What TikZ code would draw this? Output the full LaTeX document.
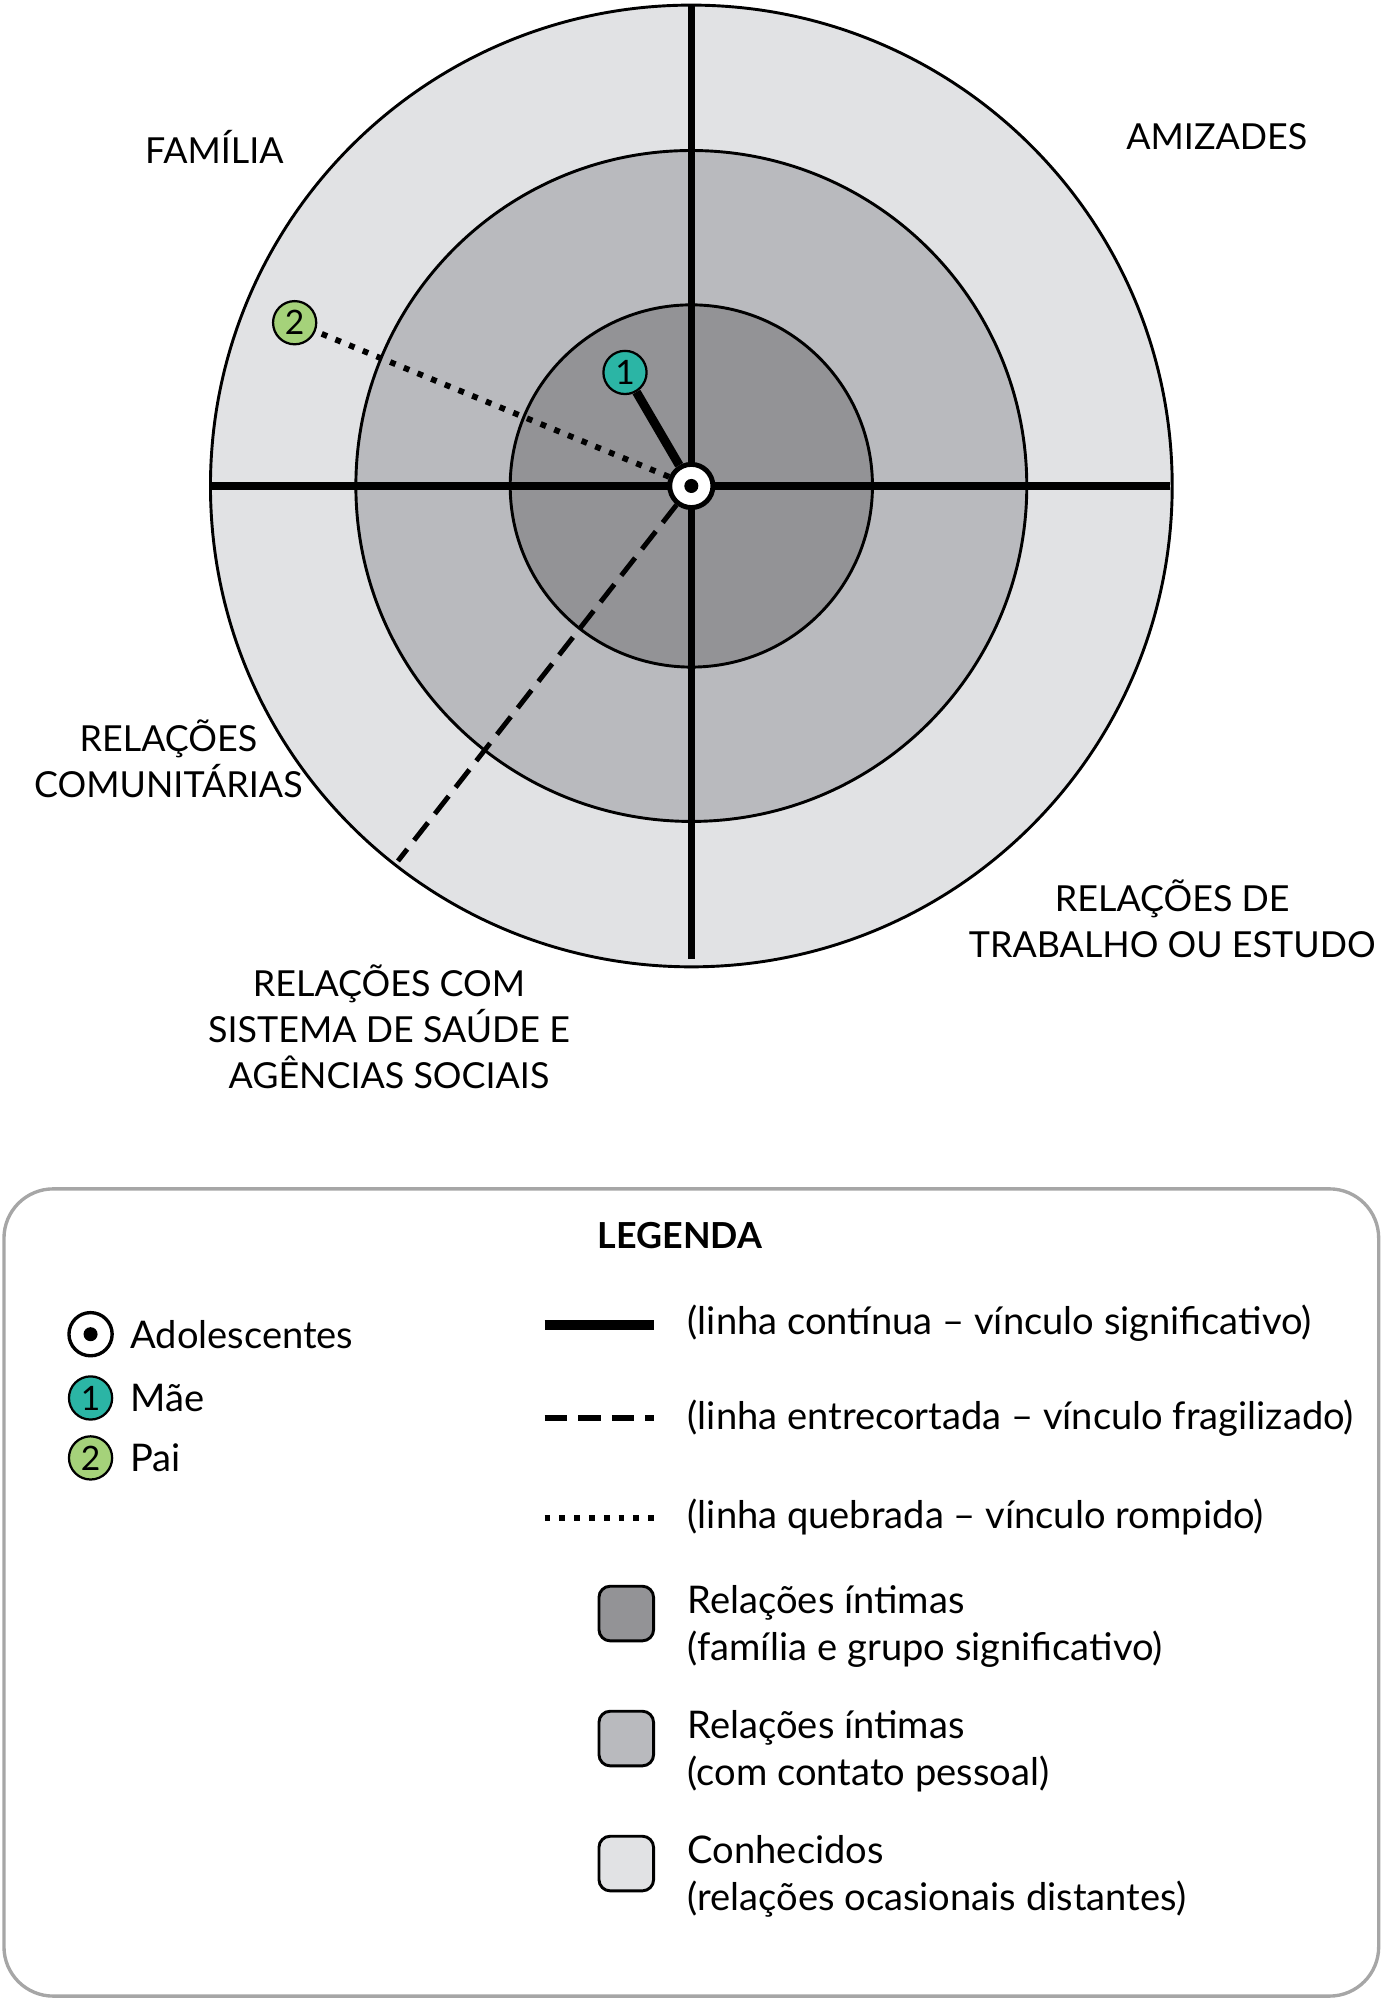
\documentclass[tikz,border=0pt]{standalone}
\usepackage{fontspec}
\setmainfont{Lato}
\definecolor{ringin}{HTML}{939396}
\definecolor{ringmid}{HTML}{B9BABE}
\definecolor{ringout}{HTML}{E1E2E4}
\definecolor{mae}{HTML}{2BB5A5}
\definecolor{pai}{HTML}{A5D27A}
\begin{document}
\begin{tikzpicture}[x=0.02cm,y=-0.02cm]
\useasboundingbox (0,0) rectangle (1084,1568);
%%%%%%%%%%%%%%%%%%%%%%%%%%%%%%%%%%%%%%%%%%%%%%%%%%%%%%%%%%%%%%
%styles
\tikzstyle{ring}=[draw=black,line width=1.3pt]
\tikzstyle{axis}=[line width=3.2pt]
\tikzstyle{person}=[circle,draw=black,line width=1pt,minimum size=34pt*0.5669,inner sep=0pt,font=\fontsize{15}{15}\selectfont]
\tikzstyle{sector}=[align=center,font=\fontsize{16}{20.5}\selectfont]
\tikzstyle{legtext}=[anchor=west,align=left,font=\fontsize{17}{21}\selectfont]
\tikzstyle{swatch}=[draw=black,line width=1.3pt,rounded corners=5pt,minimum size=43pt*0.5669]

%%%%%%%%%%%%%%%%%%%%%%%%%%%%%%%%%%%%%%%%%%%%%%%%%%%%%%%%%%%%%%
%RINGS
\coordinate (center) at (542,381);
\fill[ringout] (center) circle (377);
\draw[ring] (center) circle (377);
\fill[ringmid] (center) circle (263);
\draw[ring] (center) circle (263);
\fill[ringin] (center) circle (142);
\draw[ring] (center) circle (142);
\coordinate (axisL) at (165,381);
\coordinate (axisR) at (917,381);
\coordinate (axisT) at (542,4);
\coordinate (axisB) at (542,752);
\draw[axis] (axisL) -- (axisR);
\draw[axis] (axisT) -- (axisB);

%vertex
\node[person,fill=mae] (mother) at (490,292) {1};
\node[person,fill=pai] (father) at (231,253) {2};
\coordinate (cut) at (312,675);
\node[circle,draw=black,fill=white,line width=2.2pt,minimum size=34pt*0.5669,inner sep=0pt] (teen) at (center) {};
\fill (teen) circle (5.5);

%links
\draw[line width=4pt] (teen) -- (mother);
\draw[line width=2.6pt,dash pattern=on 2.6pt off 4pt] (teen) -- (father);
\draw[line width=2.2pt,dash pattern=on 10pt off 5pt] (teen) -- (cut);

%labels
\node[sector] (familia) at (168,115) {FAMÍLIA};
\node[sector] (amizades) at (954,107) {AMIZADES};
\node[sector] (comunit) at (132,595) {RELAÇÕES\\COMUNITÁRIAS};
\node[sector] (trabalho) at (919,720) {RELAÇÕES DE\\TRABALHO OU ESTUDO};
\node[sector] (saude) at (305,805) {RELAÇÕES COM\\SISTEMA DE SAÚDE E\\AGÊNCIAS SOCIAIS};

%%%%%%%%%%%%%%%%%%%%%%%%%%%%%%%%%%%%%%%%%%%%%%%%%%%%%%%%%%%%%%
%LEGEND
\node[draw=black!35,line width=1.5pt,rounded corners=22pt,minimum width=1078*0.2cm/10,minimum height=633*0.2cm/10] (legend) at (542,1248.5) {};
\node[font=\fontsize{16}{16}\selectfont\bfseries] (legtitle) at (533,969) {LEGENDA};

\node[circle,draw=black,fill=white,line width=1.5pt,minimum size=34pt*0.5669,inner sep=0pt] (kteen) at (71,1046) {};
\fill (kteen) circle (5.5);
\node[legtext] (tteen) at (96,1046) {Adolescentes};
\node[person,fill=mae] (kmae) at (71,1096) {1};
\node[legtext] (tmae) at (96,1096) {Mãe};
\node[person,fill=pai] (kpai) at (71,1143) {2};
\node[legtext] (tpai) at (96,1143) {Pai};

\coordinate (l1a) at (427,1039); \coordinate (l1b) at (513,1039);
\coordinate (l2a) at (427,1112); \coordinate (l2b) at (513,1112);
\coordinate (l3a) at (427,1190); \coordinate (l3b) at (513,1190);
\draw[line width=4.5pt] (l1a) -- (l1b);
\draw[line width=2.6pt,dash pattern=on 10pt off 5pt] (l2a) -- (l2b);
\draw[line width=2.6pt,dash pattern=on 2.6pt off 4pt] (l3a) -- (l3b);
\node[legtext] (t1) at (533,1037) {(linha contínua -- vínculo significativo)};
\node[legtext] (t2) at (533,1112) {(linha entrecortada -- vínculo fragilizado)};
\node[legtext] (t3) at (533,1189) {(linha quebrada -- vínculo rompido)};

\node[swatch,fill=ringin] (s1) at (491,1265) {};
\node[swatch,fill=ringmid] (s2) at (491,1363) {};
\node[swatch,fill=ringout] (s3) at (491,1461) {};
\node[legtext] (u1) at (533,1275) {Relações íntimas\\(família e grupo significativo)};
\node[legtext] (u2) at (533,1373) {Relações íntimas\\(com contato pessoal)};
\node[legtext] (u3) at (533,1471) {Conhecidos\\(relações ocasionais distantes)};
\end{tikzpicture}
\end{document}
